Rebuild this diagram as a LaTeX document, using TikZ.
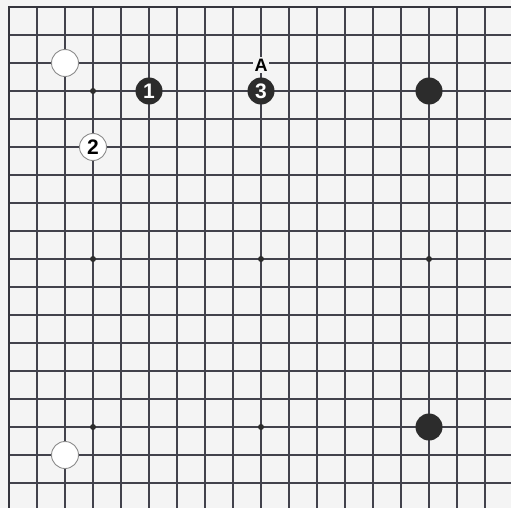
\documentclass[tikz,border=0pt]{standalone}
\usepackage{fontspec}
\setmainfont{Liberation Sans}
\definecolor{bgc}{HTML}{F4F4F4}
\definecolor{linec}{HTML}{42424C}
\definecolor{stonec}{HTML}{2C2C2C}
\tikzset{
  gridline/.style={draw=linec, line width=1.2pt},
  edgeline/.style={draw=linec!80!black, line width=2.4pt, line cap=rect},
  blackstone/.style={circle, fill=stonec, minimum size=27pt, inner sep=0pt, text=white, font=\fontsize{21}{21}\selectfont\bfseries},
  whitestone/.style={circle, draw=black!45, line width=0.9pt, fill=white, minimum size=27pt, inner sep=0pt, text=black, font=\fontsize{21}{21}\selectfont\bfseries},
  hoshi/.style={circle, fill=stonec, minimum size=6pt, inner sep=0pt},
  marklabel/.style={fill=bgc, inner sep=1.5pt, font=\fontsize{18}{18}\selectfont\bfseries}
}
\begin{document}
\begin{tikzpicture}[x=1pt,y=-1pt]
\fill[bgc] (0,0) rectangle (511,508);
\useasboundingbox (0,0) rectangle (511,508);
\foreach \i in {1,...,17} \draw[gridline] ({9+28*\i},7) -- ({9+28*\i},508);
\foreach \j in {1,...,17} \draw[gridline] (9,{7+28*\j}) -- (511,{7+28*\j});
\draw[edgeline] (9,508) -- (9,7) -- (511,7);
% star points
\foreach \a in {3,9,15} \foreach \b in {3,9,15} \node[hoshi] (h\a\b) at ({9+28*\a},{7+28*\b}) {};
% stones
\node[whitestone] (w1) at (65,63) {};
\node[blackstone] (b1) at (149,91) {1};
\node[whitestone] (w2) at (93,147) {2};
\node[blackstone] (b3) at (261,91) {3};
\node[marklabel] (lblA) at (261,65) {A};
\node[blackstone] (b2) at (429,91) {};
\node[blackstone] (b4) at (429,427) {};
\node[whitestone] (w3) at (65,455) {};
\end{tikzpicture}
\end{document}
